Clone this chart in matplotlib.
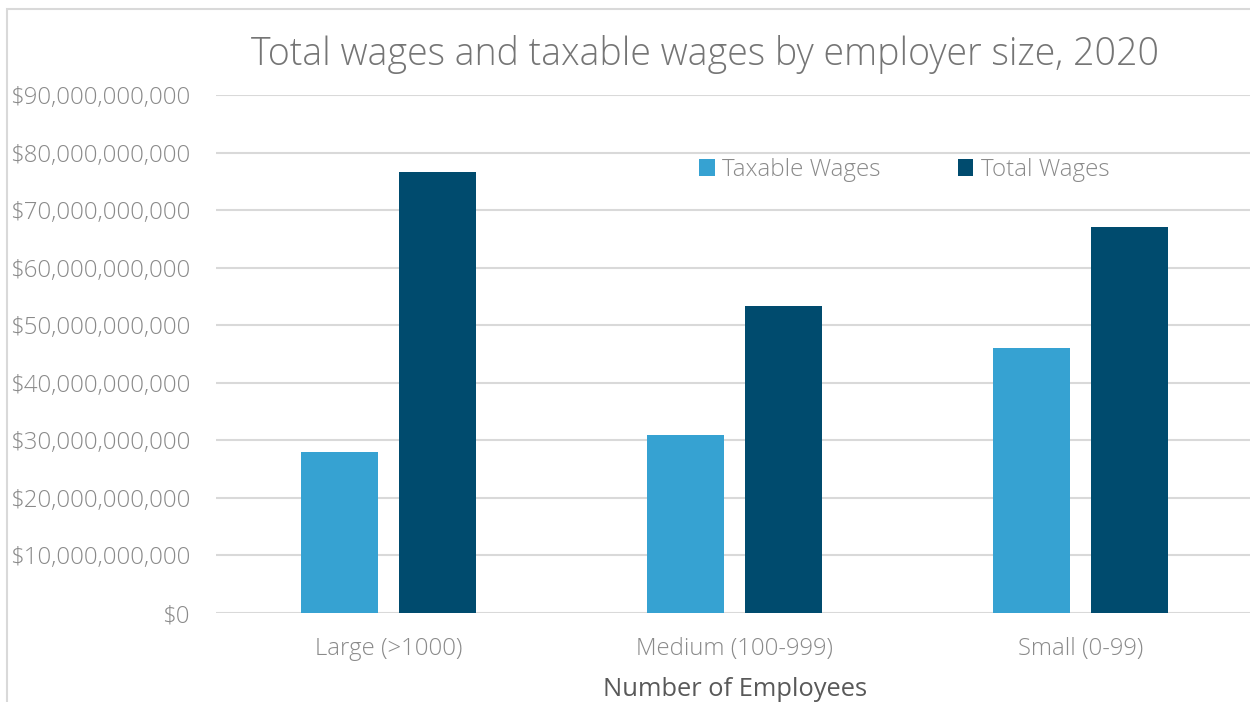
import matplotlib
matplotlib.use("Agg")
import matplotlib.pyplot as plt
import numpy as np
from matplotlib.patches import Rectangle
from matplotlib.ticker import FuncFormatter

# Chart data (values in dollars)
categories = ["Large (>1000)", "Medium (100-999)", "Small (0-99)"]
taxable_wages = [28.0e9, 30.9e9, 46.0e9]
total_wages = [76.6e9, 53.3e9, 67.1e9]
y_ticks = np.arange(0, 90e9 + 1, 10e9)

plt.rcParams['font.family'] = ['Open Sans', 'DejaVu Sans']
plt.rcParams['font.weight'] = 'light'

light_blue = "#36A2D2"
dark_blue = "#004B6E"
grid_col = "#D9D9D9"
tick_col = "#8A8A8A"

fig = plt.figure(figsize=(12.5, 7.02), dpi=100)

# outer chart border
fig.patches.append(Rectangle((7 / 1250, -0.1), 1.2, (702 - 9) / 702 + 0.1,
                             transform=fig.transFigure, fill=False,
                             edgecolor=grid_col, linewidth=1.5))

ax = fig.add_axes([216 / 1250, (702 - 613) / 702, (1253.5 - 216) / 1250, (613 - 95) / 702])

x = np.arange(len(categories))
w = 0.2225
off = 0.1416
ax.bar(x - off, taxable_wages, w, color=light_blue, label="Taxable Wages", zorder=3)
ax.bar(x + off, total_wages, w, color=dark_blue, label="Total Wages", zorder=3)

ax.set_xlim(-0.5, 2.5)
ax.set_ylim(0, 90e9)
ax.set_yticks(y_ticks)
ax.yaxis.set_major_formatter(FuncFormatter(lambda v, p: "${:,.0f}".format(v)))
ax.set_xticks(x)
ax.set_xticklabels(categories)
ax.tick_params(axis='both', length=0, colors=tick_col)
ax.tick_params(axis='y', labelsize=17.3, pad=18.7)
ax.tick_params(axis='x', labelsize=17.2, pad=17)
ax.grid(axis='y', color=grid_col, linewidth=1.5, zorder=0)
ax.set_axisbelow(True)
for s in ax.spines.values():
    s.set_visible(False)

ax.set_xlabel("Number of Employees", fontsize=18.4, color="#595959", labelpad=11.5)

fig.text(705 / 1250, 1 - 54 / 702, "Total wages and taxable wages by employer size, 2020",
         ha='center', va='center', fontsize=27, color="#757575")

ax.legend(loc='center', bbox_to_anchor=(904 / 1250, 1 - 170 / 702),
          bbox_transform=fig.transFigure, ncol=2, frameon=False,
          fontsize=17.4, labelcolor=tick_col, handlelength=0.65, handleheight=0.65,
          handletextpad=0.3, columnspacing=3.2)

fig.savefig("out.png", dpi=100)
plt.close(fig)
